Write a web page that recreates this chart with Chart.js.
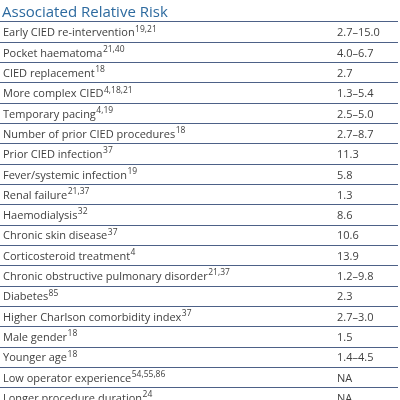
<!DOCTYPE html>
<html>
<head>
<meta charset="utf-8">
<script src="https://cdn.jsdelivr.net/npm/chart.js@4"></script>
<style>
  html, body { margin: 0; padding: 0; background: #fff; overflow: hidden; }
  #wrap { position: relative; width: 400px; height: 408px; }
</style>
</head>
<body>
<div id="wrap"><canvas id="chart"></canvas></div>
<script>
const title = 'Associated Relative Risk';

const factors = [
  'Early CIED re-intervention', 'Pocket haematoma', 'CIED replacement',
  'More complex CIED', 'Temporary pacing', 'Number of prior CIED procedures',
  'Prior CIED infection', 'Fever/systemic infection', 'Renal failure',
  'Haemodialysis', 'Chronic skin disease', 'Corticosteroid treatment',
  'Chronic obstructive pulmonary disorder', 'Diabetes',
  'Higher Charlson comorbidity index', 'Male gender', 'Younger age',
  'Low operator experience', 'Longer procedure duration'
];

const refs = [
  '19,21', '21,40', '18', '4,18,21', '4,19', '18', '37', '19', '21,37',
  '32', '37', '4', '21,37', '85', '37', '18', '18', '54,55,86', '24'
];

// lower / upper relative risk (null = not available)
const riskLow = [2.7, 4.0, 2.7, 1.3, 2.5, 2.7, 11.3, 5.8, 1.3, 8.6, 10.6, 13.9, 1.2, 2.3, 2.7, 1.5, 1.4, null, null];
const riskHigh = [15.0, 6.7, null, 5.4, 5.0, 8.7, null, null, null, null, null, null, 9.8, null, 3.0, null, 4.5, null, null];

const FONT = '"Open Sans", "Liberation Sans", sans-serif';

function riskText(i) {
  if (riskLow[i] == null) return 'NA';
  if (riskHigh[i] == null) return riskLow[i].toFixed(1);
  return riskLow[i].toFixed(1) + '\u2013' + riskHigh[i].toFixed(1);
}

// Draws the title and the table cells, placed on the category scale
const tableText = {
  id: 'tableText',
  afterDatasetsDraw(chart) {
    const { ctx, scales: { y } } = chart;
    ctx.save();
    ctx.fillStyle = '#2d6a9f';
    ctx.font = '15px ' + FONT;
    ctx.textBaseline = 'alphabetic';
    ctx.fillText(title, 2, 17);

    ctx.textBaseline = 'middle';
    factors.forEach((name, i) => {
      const py = y.getPixelForValue(i) + 1;
      ctx.fillStyle = '#404040';
      ctx.font = '11px ' + FONT;
      ctx.fillText(name, 3, py);
      const w = ctx.measureText(name).width;
      ctx.font = '8.5px ' + FONT;
      ctx.fillText(refs[i], 3 + w + 0.5, py - 4);
      ctx.font = '11px ' + FONT;
      ctx.fillText(riskText(i), 337, py);
    });
    ctx.restore();
  }
};

new Chart(document.getElementById('chart'), {
  type: 'bar',
  data: {
    labels: factors,
    datasets: [{
      data: riskLow.map((v, i) => [v ?? 0, riskHigh[i] ?? v ?? 0]),
      backgroundColor: 'transparent',
      borderWidth: 0
    }]
  },
  options: {
    indexAxis: 'y',
    responsive: true,
    maintainAspectRatio: false,
    animation: false,
    layout: { padding: { top: 22, right: 2, left: 0, bottom: 0 } },
    plugins: {
      legend: { display: false },
      tooltip: { enabled: false }
    },
    scales: {
      x: { display: false, min: 0, max: 20 },
      y: {
        offset: true,
        grid: { offset: true, color: '#4d6187', lineWidth: 1, drawTicks: false },
        border: { display: false },
        ticks: { display: false }
      }
    }
  },
  plugins: [tableText]
});
</script>
</body>
</html>
